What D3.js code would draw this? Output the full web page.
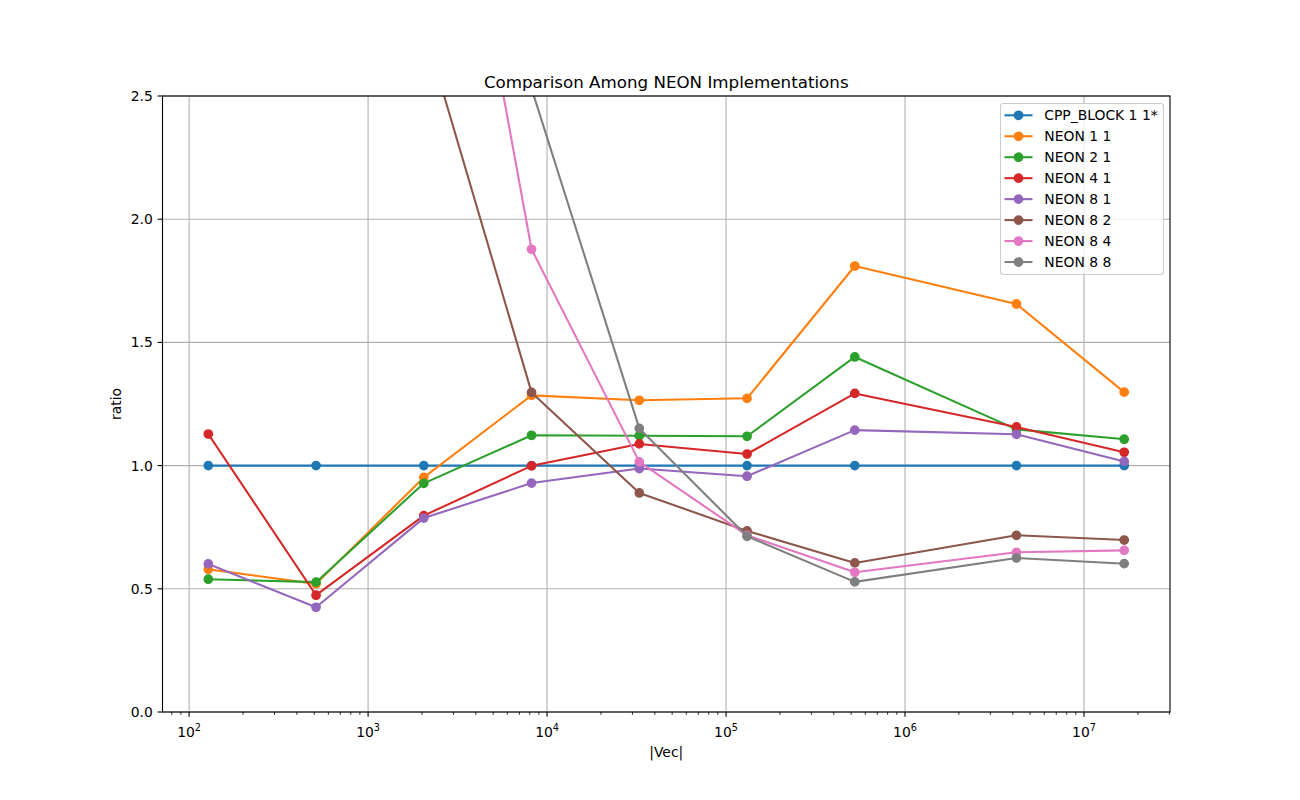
<!DOCTYPE html>
<html><head><meta charset="utf-8">
<script src="https://cdn.jsdelivr.net/npm/d3@7"></script>
<style>body{margin:0;background:#fff;} text{font-family:"DejaVu Sans",sans-serif;}</style>
</head><body><div id="chart"></div>
<script>
const xValues = [128, 512, 2048, 8192, 32768, 131072, 524288, 4194304, 16777216];
const seriesNames = ["CPP_BLOCK 1 1*", "NEON 1 1", "NEON 2 1", "NEON 4 1", "NEON 8 1", "NEON 8 2", "NEON 8 4", "NEON 8 8"];
const cppBlock = [1, 1, 1, 1, 1, 1, 1, 1, 1];
const neon11 = [0.579, 0.52, 0.952, 1.285, 1.265, 1.273, 1.81, 1.656, 1.298];
const neon21 = [0.539, 0.527, 0.928, 1.123, 1.121, 1.119, 1.441, 1.147, 1.107];
const neon41 = [1.128, 0.474, 0.797, 0.999, 1.088, 1.047, 1.293, 1.157, 1.054];
const neon81 = [0.601, 0.425, 0.787, 0.929, 0.988, 0.957, 1.144, 1.127, 1.017];
const neon82 = [9.8, 5.1, 2.78, 1.297, 0.889, 0.735, 0.605, 0.717, 0.698];
const neon84 = [14.2, 7.6, 4.27, 1.878, 1.015, 0.717, 0.567, 0.648, 0.656];
const neon88 = [25.3, 12.1, 4.9, 2.53, 1.151, 0.713, 0.528, 0.625, 0.602];
const colors = ["#1f77b4", "#ff7f0e", "#2ca02c", "#d62728", "#9467bd", "#8c564b", "#e377c2", "#7f7f7f"];
const yTicks = [0, 0.5, 1.0, 1.5, 2.0, 2.5];
const xMajorTicks = [1e2, 1e3, 1e4, 1e5, 1e6, 1e7];
const titleText = "Comparison Among NEON Implementations";
const xLabel = "|Vec|";
const yLabel = "ratio";

const series = [cppBlock, neon11, neon21, neon41, neon81, neon82, neon84, neon88];

const W = 1300, H = 800;
const L = 162.5, R = 1170, T = 96, B = 712;
const lx0 = Math.log10(xValues[0]), lx1 = Math.log10(xValues[xValues.length - 1]);
const m = (lx1 - lx0) * 0.05;
const x = d3.scaleLog().domain([Math.pow(10, lx0 - m), Math.pow(10, lx1 + m)]).range([L, R]);
const y = d3.scaleLinear().domain([0, 2.5]).range([B, T]);

const svg = d3.select("#chart").append("svg").attr("width", W).attr("height", H);
svg.append("rect").attr("width", W).attr("height", H).attr("fill", "#fff");
svg.append("defs").append("clipPath").attr("id", "clip")
  .append("rect").attr("x", L).attr("y", T).attr("width", R - L).attr("height", B - T);

// grid
const grid = svg.append("g");
xMajorTicks.forEach(t => grid.append("line").attr("x1", x(t)).attr("x2", x(t)).attr("y1", T).attr("y2", B)
  .attr("stroke", "#b0b0b0").attr("stroke-width", 1.1));
yTicks.forEach(t => grid.append("line").attr("x1", L).attr("x2", R).attr("y1", y(t)).attr("y2", y(t))
  .attr("stroke", "#b0b0b0").attr("stroke-width", 1.1));

// series
const plot = svg.append("g").attr("clip-path", "url(#clip)");
const line = d3.line().x((d, i) => x(xValues[i])).y(d => y(d));
series.forEach((s, k) => {
  const g = plot.append("g");
  g.append("path").attr("d", line(s)).attr("fill", "none").attr("stroke", colors[k])
    .attr("stroke-width", 2.08).attr("stroke-linejoin", "round").attr("stroke-linecap", "square");
  g.selectAll("circle").data(s).join("circle")
    .attr("cx", (d, i) => x(xValues[i])).attr("cy", d => y(d)).attr("r", 4.17)
    .attr("fill", colors[k]).attr("stroke", colors[k]).attr("stroke-width", 1.39);
});

// spines
svg.append("rect").attr("x", L).attr("y", T).attr("width", R - L).attr("height", B - T)
  .attr("fill", "none").attr("stroke", "#000").attr("stroke-width", 1.1);

// y ticks
yTicks.forEach(t => {
  svg.append("line").attr("x1", L - 4.86).attr("x2", L).attr("y1", y(t)).attr("y2", y(t)).attr("stroke", "#000").attr("stroke-width", 1.1);
  svg.append("text").attr("x", L - 9.7).attr("y", y(t) + 5).attr("text-anchor", "end")
    .attr("font-size", 13.9).text(t.toFixed(1));
});

// x ticks
const [d0, d1] = x.domain();
for (let e = Math.floor(Math.log10(d0)); e <= Math.ceil(Math.log10(d1)); e++) {
  for (let k = 2; k <= 9; k++) {
    const v = k * Math.pow(10, e);
    if (v >= d0 && v <= d1) {
      svg.append("line").attr("x1", x(v)).attr("x2", x(v)).attr("y1", B).attr("y2", B + 2.78)
        .attr("stroke", "#000").attr("stroke-width", 0.83);
    }
  }
}
xMajorTicks.forEach(t => {
  svg.append("line").attr("x1", x(t)).attr("x2", x(t)).attr("y1", B).attr("y2", B + 4.86).attr("stroke", "#000").attr("stroke-width", 1.1);
  const tx = svg.append("text").attr("x", x(t)).attr("y", B + 25).attr("text-anchor", "middle").attr("font-size", 13.9);
  tx.append("tspan").text("10");
  tx.append("tspan").attr("font-size", 9.7).attr("dy", -6).text(String(Math.round(Math.log10(t))));
});

// labels
svg.append("text").attr("x", (L + R) / 2).attr("y", 757).attr("text-anchor", "middle").attr("font-size", 13.9).text(xLabel);
svg.append("text").attr("transform", `translate(${121},${(T + B) / 2}) rotate(-90)`).attr("text-anchor", "middle")
  .attr("font-size", 13.9).text(yLabel);
svg.append("text").attr("x", (L + R) / 2).attr("y", 88).attr("text-anchor", "middle").attr("font-size", 16.7).text(titleText);

// legend
const lg = svg.append("g");
lg.append("rect").attr("x", 1000.5).attr("y", 103.5).attr("width", 163).attr("height", 171).attr("rx", 3)
  .attr("fill", "#fff").attr("fill-opacity", 0.8).attr("stroke", "#cccccc").attr("stroke-width", 1.1);
seriesNames.forEach((n, k) => {
  const cy = 115.3 + k * 20.96;
  lg.append("line").attr("x1", 1004.5).attr("x2", 1032.5).attr("y1", cy).attr("y2", cy).attr("stroke", colors[k]).attr("stroke-width", 2.08);
  lg.append("circle").attr("cx", 1018.5).attr("cy", cy).attr("r", 4.17).attr("fill", colors[k]).attr("stroke", colors[k]).attr("stroke-width", 1.39);
  lg.append("text").attr("x", 1044.3).attr("y", cy + 5).attr("font-size", 13.9).text(n);
});
</script></body></html>
